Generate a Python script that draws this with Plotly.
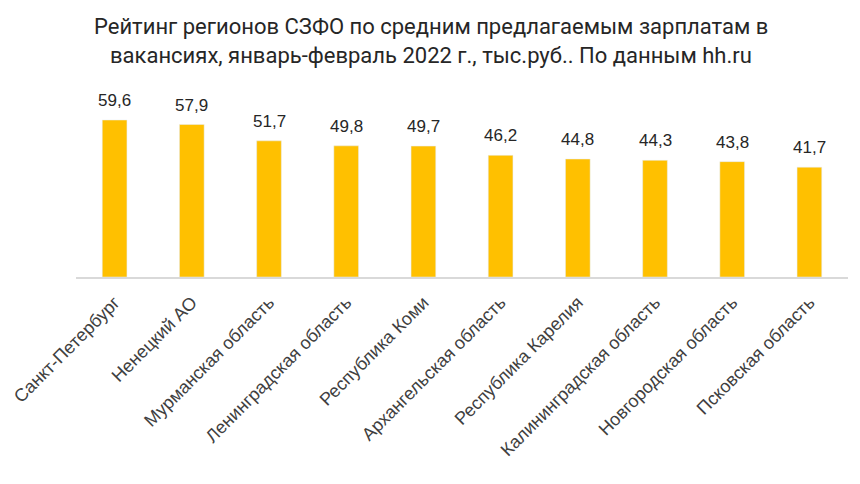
import plotly.graph_objects as go

regions = ['Санкт-Петербург', 'Ненецкий АО', 'Мурманская область', 'Ленинградская область',
           'Республика Коми', 'Архангельская область', 'Республика Карелия',
           'Калининградская область', 'Новгородская область', 'Псковская область']
salary = [59.6, 57.9, 51.7, 49.8, 49.7, 46.2, 44.8, 44.3, 43.8, 41.7]
labels = [f"{v:.1f}".replace('.', ',') for v in salary]

title_lines = ['Рейтинг регионов СЗФО по средним предлагаемым зарплатам в',
               'вакансиях, январь-февраль 2022 г., тыс.руб.. По данным hh.ru']

fig = go.Figure()
fig.add_trace(go.Bar(x=regions, y=salary, marker_color='#FFC000', width=0.32))

# value labels above bars
for r, v, t in zip(regions, salary, labels):
    fig.add_annotation(x=r, y=v, text=t, showarrow=False, yanchor='bottom', yshift=8,
                       font=dict(family='Arial', size=17, color='#262626'))

# two-line title
for yy, line in zip([1.34, 1.187], title_lines):
    fig.add_annotation(x=0.46, y=yy, xref='paper', yref='paper', text=line, showarrow=False,
                       xanchor='center', yanchor='middle',
                       font=dict(family='Roboto', size=22, color='#262626'))

fig.update_layout(
    width=860, height=484,
    margin=dict(l=68, r=20, t=82, b=215),
    plot_bgcolor='white', paper_bgcolor='white',
    showlegend=False,
)
fig.update_xaxes(tickangle=-45, showline=True, linecolor='#d9d9d9', linewidth=2,
                 automargin=False, ticklabelstandoff=6,
                 tickfont=dict(family='Arial', size=18, color='#404040'), ticks='')
fig.update_yaxes(range=[0, 71], visible=False, showgrid=False)

fig.write_html("out.html")
